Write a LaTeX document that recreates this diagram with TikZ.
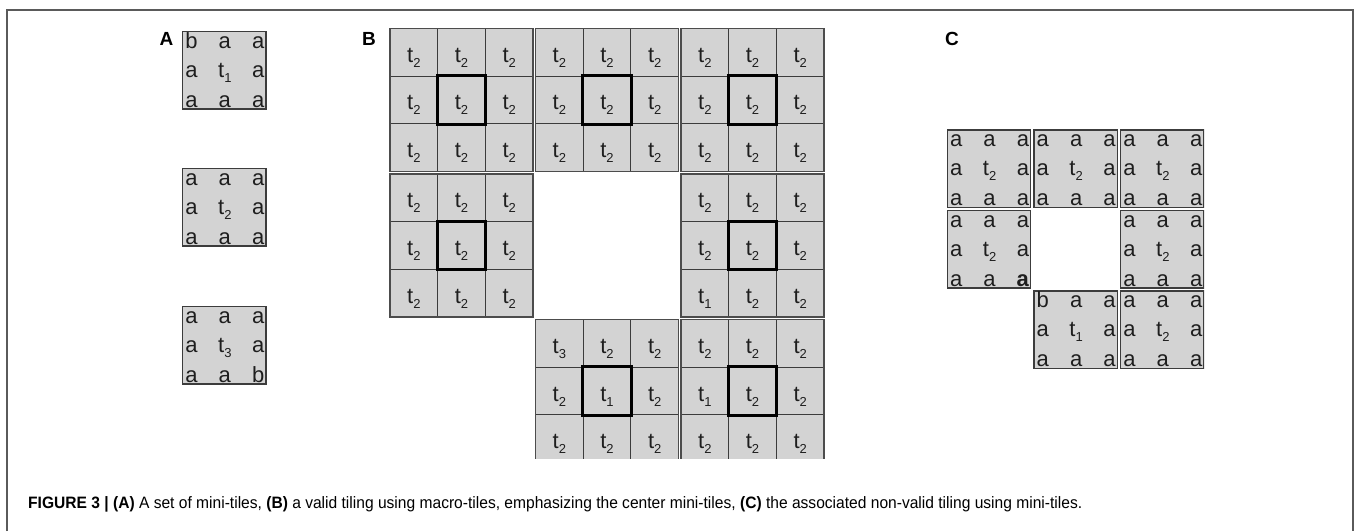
\documentclass[tikz,border=0pt]{standalone}
\usepackage{fontspec}
\setmainfont{Liberation Sans}
\usepackage{graphicx}
\usepackage{xcolor}
\usetikzlibrary{calc}
\definecolor{tilegray}{HTML}{D3D3D3}
\definecolor{linegray}{HTML}{3C3C3C}
\definecolor{inkgray}{HTML}{1E1E1E}
\definecolor{framegray}{HTML}{5A5A5A}

\newcommand{\tsub}[1]{t\raisebox{-5pt}{\fontsize{13}{13}\selectfont #1}}

% macro-tile of panel B: name, x, y (top left), nine labels
\newcommand{\macrotile}[4]{%
  \foreach \lab [count=\i from 0] in {#4} {
    \pgfmathtruncatemacro\cc{mod(\i,3)}
    \pgfmathtruncatemacro\rr{div(\i,3)}
    \node[cell] (#1-\i) at ({#2+\cc*47.67+23.83},{#3+\rr*47.67+23.83}) {\tsub{\lab}};
  }
  \draw[macro] (#2,#3) rectangle ++(143,143);
  \draw[centre] (#1-4.north west) rectangle (#1-4.south east);
}

% mini-tile of panels A and C: name, x, y (top left), three rows
\newcommand{\minitile}[6]{%
  \node[mini] (#1) at (#2,#3) {};
  \node[minirow] (#1-r1) at ($(#1.north)+(0.5,17)$) {\makebox[79pt]{#4}};
  \node[minirow] (#1-r2) at ($(#1.north)+(0.5,46)$) {\makebox[79pt]{#5}};
  \node[minirow] (#1-r3) at ($(#1.north)+(0.5,76)$) {\makebox[79pt]{#6}};
}

\begin{document}
\begin{tikzpicture}[x=1pt,y=-1pt,
  cell/.style={rectangle,draw=linegray,fill=tilegray,line width=0.8pt,
               minimum width=47.67pt,minimum height=47.67pt,inner sep=0pt,
               text height=20pt,text depth=0pt,text=inkgray,
               font=\fontsize{22}{24}\selectfont},
  macro/.style={draw=black!70,line width=1.5pt},
  centre/.style={draw=black,line width=3pt},
  mini/.style={rectangle,anchor=north west,draw=linegray,fill=tilegray,
               line width=1.4pt,minimum width=83.3pt,minimum height=77.4pt,
               inner sep=0pt},
  minirow/.style={anchor=base,inner sep=0pt,text=inkgray,
                  font=\fontsize{22}{24}\selectfont},
  panel/.style={inner sep=0pt,font=\fontsize{19}{20}\selectfont\bfseries}
]
  \useasboundingbox (0,0) rectangle (1356,531);
  \draw[framegray,line width=1.5pt] (7,531) -- (7,10) -- (1353,10) -- (1353,531);

  % panel A
  \node[panel] (labA) at (166.5,38.5) {A};
  \minitile{a1}{182}{31}{b\hfill a\hfill a}{a\hfill\tsub{1}\hfill a}{a\hfill a\hfill a}
  \minitile{a2}{182}{168}{a\hfill a\hfill a}{a\hfill\tsub{2}\hfill a}{a\hfill a\hfill a}
  \minitile{a3}{182}{306}{a\hfill a\hfill a}{a\hfill\tsub{3}\hfill a}{a\hfill a\hfill b}

  % panel B
  \node[panel] (labB) at (369,38.5) {B};
  \begin{scope}
    \clip (380,0) rectangle (840,458);
    \macrotile{m11}{390}{28.3}{2,2,2,2,2,2,2,2,2}
    \macrotile{m12}{535.5}{28.3}{2,2,2,2,2,2,2,2,2}
    \macrotile{m13}{681}{28.3}{2,2,2,2,2,2,2,2,2}
    \macrotile{m21}{390}{174}{2,2,2,2,2,2,2,2,2}
    \macrotile{m23}{681}{174}{2,2,2,2,2,2,1,2,2}
    \macrotile{m32}{535.5}{319.5}{3,2,2,2,1,2,2,2,2}
    \macrotile{m33}{681}{319.5}{2,2,2,1,2,2,2,2,2}
  \end{scope}

  % panel C
  \node[panel] (labC) at (952,38.5) {C};
  \begin{scope}
    \clip (900,100) rectangle (1204,400);
    \minitile{c11}{946.7}{129.3}{a\hfill a\hfill a}{a\hfill\tsub{2}\hfill a}{a\hfill a\hfill a}
    \minitile{c12}{1033.3}{129.3}{a\hfill a\hfill a}{a\hfill\tsub{2}\hfill a}{a\hfill a\hfill a}
    \minitile{c13}{1120}{129.3}{a\hfill a\hfill a}{a\hfill\tsub{2}\hfill a}{a\hfill a\hfill a}
    \minitile{c21}{946.7}{210}{a\hfill a\hfill a}{a\hfill\tsub{2}\hfill a}{a\hfill a\hfill\textbf{a}}
    \minitile{c23}{1120}{210}{a\hfill a\hfill a}{a\hfill\tsub{2}\hfill a}{a\hfill a\hfill a}
    \minitile{c32}{1033.3}{290.3}{b\hfill a\hfill a}{a\hfill\tsub{1}\hfill a}{a\hfill a\hfill a}
    \minitile{c33}{1120}{290.3}{a\hfill a\hfill a}{a\hfill\tsub{2}\hfill a}{a\hfill a\hfill a}
  \end{scope}

  % caption
  \node[anchor=base west,inner sep=0pt,font=\fontsize{16.5}{18}\selectfont] (caption) at (28,508)
    {\resizebox{1054pt}{\height}{\textbf{FIGURE 3 | (A)} A set of mini-tiles, \textbf{(B)} a valid tiling using macro-tiles, emphasizing the center mini-tiles, \textbf{(C)} the associated non-valid tiling using mini-tiles.}};
\end{tikzpicture}
\end{document}
